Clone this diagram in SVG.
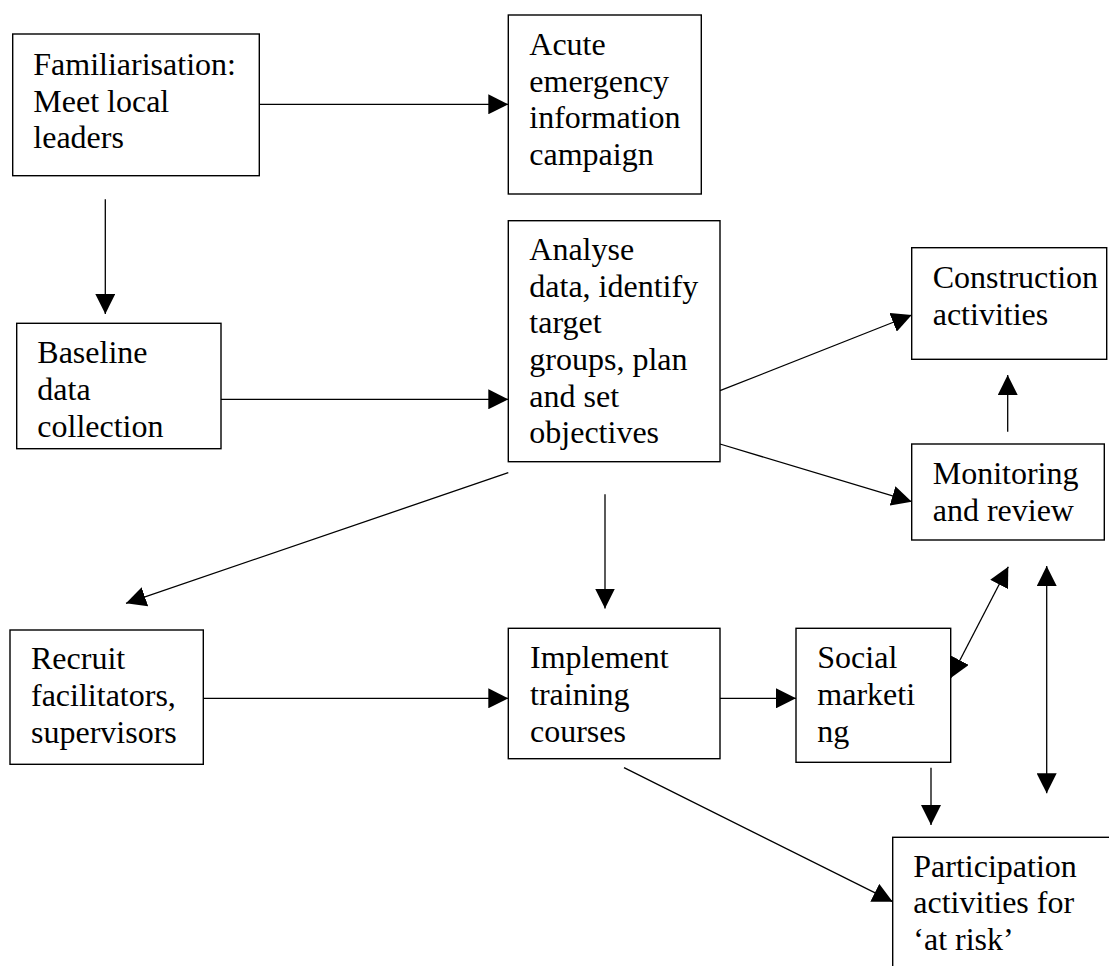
<svg xmlns="http://www.w3.org/2000/svg" width="1109" height="966" viewBox="0 0 1109 966">
  <style>
    .box { fill: #ffffff; stroke: #000000; stroke-width: 1.4; }
    .lbl { font-family: 'Liberation Serif', serif; font-size: 32px; fill: #000000; }
    .con { fill: none; stroke: #000000; stroke-width: 1.3; }
    .arr { marker-end: url(#ah); }
    .dbl { marker-start: url(#ah); marker-end: url(#ah); }
  </style>
  <defs>
    <marker id="ah" viewBox="0 0 20 20" refX="20" refY="10" markerWidth="20" markerHeight="20" markerUnits="userSpaceOnUse" orient="auto-start-reverse">
      <path d="M0,0 L20,10 L0,20 Z" fill="#000000"/>
    </marker>
  </defs>
  <rect width="1109" height="966" fill="#ffffff"/>

  <g id="connectors">
    <path class="con arr" d="M259,104.3 L508.3,104.3"/>
    <path class="con arr" d="M105.3,199.3 L105.3,314"/>
    <path class="con arr" d="M221,399.3 L508.3,399.3"/>
    <path class="con arr" d="M508.3,472.7 L126,603.3"/>
    <path class="con arr" d="M720,390.7 L911.7,315"/>
    <path class="con arr" d="M720,444 L911.7,501.7"/>
    <path class="con arr" d="M1007.7,431.7 L1007.7,375"/>
    <path class="con arr" d="M605,494.3 L605,608.5"/>
    <path class="con arr" d="M201.7,698.3 L508.3,698.3"/>
    <path class="con arr" d="M720,698.3 L796,698.3"/>
    <path class="con dbl" d="M950.7,678 L1008.3,566.7"/>
    <path class="con dbl" d="M1046.7,566 L1046.7,793.3"/>
    <path class="con arr" d="M931,767.7 L931,825"/>
    <path class="con arr" d="M624,767.7 L892.7,901.7"/>
  </g>

  <g id="familiarisation">
    <rect class="box" x="12.7" y="34" width="246.6" height="141.7"/>
    <text class="lbl" x="33.3" y="75">Familiarisation:</text>
    <text class="lbl" x="33.3" y="111.7">Meet local</text>
    <text class="lbl" x="33.3" y="148.3">leaders</text>
  </g>

  <g id="acute">
    <rect class="box" x="508.3" y="15" width="193" height="179"/>
    <text class="lbl" x="529.3" y="55">Acute</text>
    <text class="lbl" x="529.3" y="91.7">emergency</text>
    <text class="lbl" x="529.3" y="128.3">information</text>
    <text class="lbl" x="529.3" y="165">campaign</text>
  </g>

  <g id="baseline">
    <rect class="box" x="16.7" y="323.3" width="204.3" height="125.4"/>
    <text class="lbl" x="37.3" y="363.3">Baseline</text>
    <text class="lbl" x="37.3" y="400">data</text>
    <text class="lbl" x="37.3" y="436.7">collection</text>
  </g>

  <g id="analyse">
    <rect class="box" x="508.3" y="220.7" width="211.7" height="241"/>
    <text class="lbl" x="529.3" y="260">Analyse</text>
    <text class="lbl" x="529.3" y="296.7">data, identify</text>
    <text class="lbl" x="529.3" y="333.3">target</text>
    <text class="lbl" x="529.3" y="370">groups, plan</text>
    <text class="lbl" x="529.3" y="406.7">and set</text>
    <text class="lbl" x="529.3" y="443.3">objectives</text>
  </g>

  <g id="construction">
    <rect class="box" x="911.7" y="247.7" width="195" height="111.6"/>
    <text class="lbl" x="932.7" y="287.7">Construction</text>
    <text class="lbl" x="932.7" y="325">activities</text>
  </g>

  <g id="monitoring">
    <rect class="box" x="911.7" y="444" width="192.6" height="96"/>
    <text class="lbl" x="932.7" y="484">Monitoring</text>
    <text class="lbl" x="932.7" y="521">and review</text>
  </g>

  <g id="recruit">
    <rect class="box" x="10" y="630" width="193.3" height="134.3"/>
    <text class="lbl" x="31" y="669.3">Recruit</text>
    <text class="lbl" x="31" y="706">facilitators,</text>
    <text class="lbl" x="31" y="742.7">supervisors</text>
  </g>

  <g id="implement">
    <rect class="box" x="508.3" y="628.3" width="211.7" height="130.4"/>
    <text class="lbl" x="530" y="668.3">Implement</text>
    <text class="lbl" x="530" y="705">training</text>
    <text class="lbl" x="530" y="741.7">courses</text>
  </g>

  <g id="social">
    <rect class="box" x="796" y="628.3" width="154.7" height="134"/>
    <text class="lbl" x="817.3" y="668.3">Social</text>
    <text class="lbl" x="817.3" y="705">marketi</text>
    <text class="lbl" x="817.3" y="741.7">ng</text>
  </g>

  <g id="participation">
    <rect class="box" x="892.7" y="837.3" width="240" height="160"/>
    <text class="lbl" x="913.3" y="876.7">Participation</text>
    <text class="lbl" x="913.3" y="913.3">activities for</text>
    <text class="lbl" x="913.3" y="950">‘at risk’</text>
  </g>
</svg>
